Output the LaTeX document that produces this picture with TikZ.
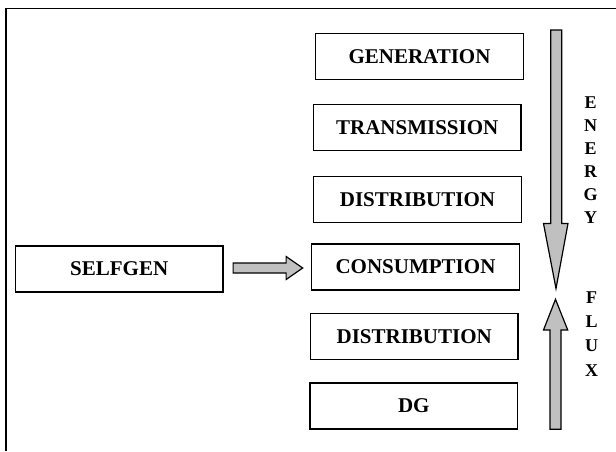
\documentclass[tikz,border=0pt]{standalone}
\usepackage{fontspec}
\setmainfont{Liberation Serif}
\usetikzlibrary{calc}
\definecolor{arrowgray}{RGB}{192,192,192}
\begin{document}
\begin{tikzpicture}[x=1pt,y=-1pt,
  stagebox/.style={draw=black,line width=1.3pt,inner sep=0pt,minimum width=207.5pt,minimum height=46pt,
     font=\fontsize{21}{25}\selectfont\bfseries},
  flowletter/.style={inner sep=0pt,font=\fontsize{18}{20}\selectfont\bfseries},
  blockarrow/.style={draw=black,line width=1.2pt,fill=arrowgray,line join=miter}]
\useasboundingbox (0,0) rectangle (616,451);
% frame (top and left edges)
\draw[line width=1.4pt] (6,451) -- (6,8.5) -- (616,8.5);
% boxes
\node[stagebox] (gen)  at (419.5,56.7) {GENERATION};
\node[stagebox] (tra)  at (417.2,127.8) {TRANSMISSION};
\node[stagebox] (dis)  at (417.5,199.5) {DISTRIBUTION};
\node[stagebox] (con)  at (415.5,267) {CONSUMPTION};
\node[stagebox] (dis2) at (414.2,336.3) {DISTRIBUTION};
\node[stagebox] (dg)   at (413.8,406) {DG};
\node[stagebox] (sg)   at (119.2,269) {SELFGEN};
% selfgen -> consumption block arrow
\coordinate (a0) at ($(sg.east)+(9.5,-1)$);
\coordinate (a1) at ($(a0 -| con.west)+(-8.4,0)$);
\draw[blockarrow] ($(a0)+(0,-5)$) -- ($(a1)+(-16.6,-5)$) -- ($(a1)+(-16.6,-11.5)$) -- (a1)
   -- ($(a1)+(-16.6,11.5)$) -- ($(a1)+(-16.6,5)$) -- ($(a0)+(0,5)$) -- cycle;
% energy (downward) arrow
\draw[blockarrow] (550.7,30) -- (561.7,30) -- (561.7,223.5) -- (568,223.5) -- (556,288.5)
   -- (543.5,223.5) -- (550.7,223.5) -- cycle;
% flux (upward) arrow
\draw[blockarrow] (550,429.3) -- (561,429.3) -- (561,330) -- (567.7,330) -- (555.5,299.3)
   -- (543.5,330) -- (550,330) -- cycle;
% vertical label letters
\foreach \l [count=\i] in {E,N,E,R,G,Y}
  \node[flowletter] (e\i) at (590.5,103+22.9*\i-22.9) {\l};
\foreach \l [count=\i] in {F,L,U,X}
  \node[flowletter] (f\i) at (591.5,297.5+24.2*\i-24.2) {\l};
\end{tikzpicture}
\end{document}
